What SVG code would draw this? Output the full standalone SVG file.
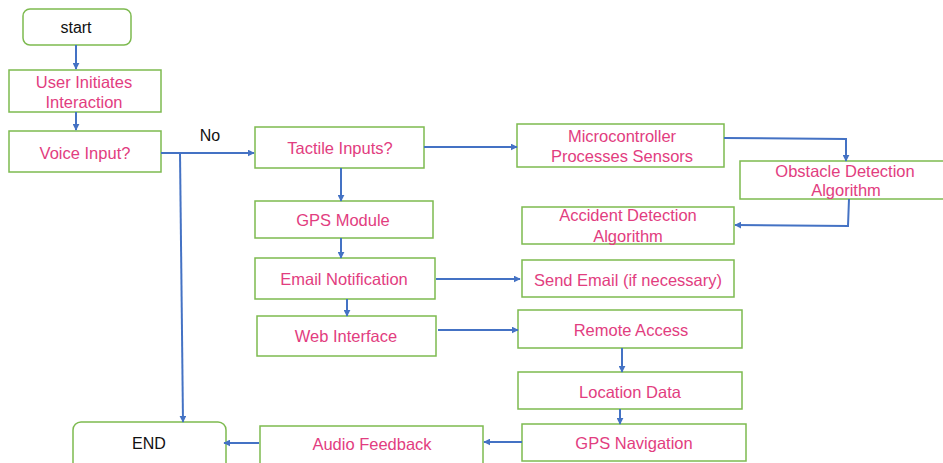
<svg xmlns="http://www.w3.org/2000/svg" width="943" height="463" viewBox="0 0 943 463">
<defs>
<marker id="ah" viewBox="0 0 10 10" refX="9" refY="5" markerWidth="7" markerHeight="7" orient="auto-start-reverse" markerUnits="userSpaceOnUse">
<path d="M0,0 L10,5 L0,10 z" fill="#4472C4"/>
</marker>
<style>
.box{fill:#fff;stroke:#7DBA4F;stroke-width:1.5}
.t{font-family:"Liberation Sans",Arial,sans-serif;font-size:16.5px;fill:#E23D80;text-anchor:middle;dominant-baseline:central}
.k{font-family:"Liberation Sans",Arial,sans-serif;font-size:16px;fill:#111;text-anchor:middle;dominant-baseline:central}
.c{fill:none;stroke:#4472C4;stroke-width:2;marker-end:url(#ah)}
</style>
</defs>
<rect width="943" height="463" fill="#fff"/>
<g id="start"><rect class="box" x="23" y="9" width="108" height="36" rx="7"/><text class="k" x="76" y="27">start</text></g>
<g id="user"><rect class="box" x="9" y="70" width="152" height="42"/><text class="t" x="84" y="82">User Initiates</text><text class="t" x="84" y="102">Interaction</text></g>
<g id="voice"><rect class="box" x="9" y="131" width="152" height="41"/><text class="t" x="85" y="153">Voice Input?</text></g>
<g id="tactile"><rect class="box" x="255" y="127" width="169" height="41"/><text class="t" x="340" y="148">Tactile Inputs?</text></g>
<g id="micro"><rect class="box" x="517" y="124" width="207" height="43"/><text class="t" x="622" y="136">Microcontroller</text><text class="t" x="622" y="156">Processes Sensors</text></g>
<g id="obstacle"><rect class="box" x="740" y="161" width="205" height="38"/><text class="t" x="845" y="171">Obstacle Detection</text><text class="t" x="846" y="190">Algorithm</text></g>
<g id="accident"><rect class="box" x="522" y="207" width="212" height="37"/><text class="t" x="628" y="215">Accident Detection</text><text class="t" x="628" y="236">Algorithm</text></g>
<g id="gps"><rect class="box" x="255" y="201" width="178" height="37"/><text class="t" x="343" y="220">GPS Module</text></g>
<g id="email"><rect class="box" x="255" y="258" width="180" height="41"/><text class="t" x="344" y="279">Email Notification</text></g>
<g id="send"><rect class="box" x="522" y="260" width="212" height="37"/><text class="t" x="628" y="280">Send Email (if necessary)</text></g>
<g id="web"><rect class="box" x="257" y="316" width="179" height="40"/><text class="t" x="346" y="336">Web Interface</text></g>
<g id="remote"><rect class="box" x="518" y="310" width="224" height="38"/><text class="t" x="631" y="330">Remote Access</text></g>
<g id="location"><rect class="box" x="518" y="372" width="224" height="37"/><text class="t" x="630" y="392">Location Data</text></g>
<g id="gpsnav"><rect class="box" x="522" y="424" width="224" height="37"/><text class="t" x="634" y="443">GPS Navigation</text></g>
<g id="audio"><rect class="box" x="260" y="426" width="223" height="45"/><text class="t" x="372" y="444">Audio Feedback</text></g>
<g id="end"><rect class="box" x="73" y="422" width="153" height="50" rx="8"/><text class="k" x="149" y="443">END</text></g>
<g id="connectors">
<path class="c" d="M76,45 V69"/>
<path class="c" d="M76,112 V130"/>
<path class="c" d="M161,153 H254"/>
<path class="c" d="M180,153 L183,422"/>
<path class="c" d="M424,147 H517"/>
<path class="c" d="M724,138 L846,139 V161"/>
<path class="c" d="M849,199 L848,226 L735,225"/>
<path class="c" d="M341,168 V201"/>
<path class="c" d="M341,238 V258"/>
<path class="c" d="M436,279 H520"/>
<path class="c" d="M347,299 V316"/>
<path class="c" d="M438,330 H518"/>
<path class="c" d="M622,348 V372"/>
<path class="c" d="M620,409 V424"/>
<path class="c" d="M522,442 H484"/>
<path class="c" d="M259,443 H224"/>
<text class="k" x="210" y="135">No</text>
</g>
</svg>
